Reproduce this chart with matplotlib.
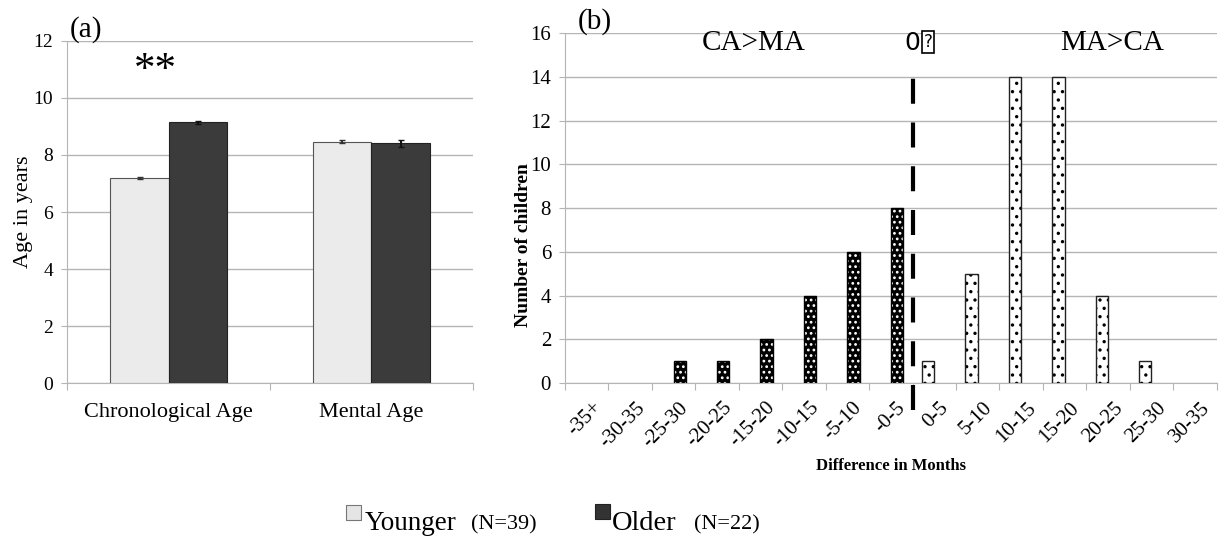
import numpy as np
import matplotlib.pyplot as plt
from matplotlib.patches import Rectangle

# panel (a) data
age_groups = ["Chronological Age", "Mental Age"]
younger_age = [7.18, 8.47]
younger_err = [0.03, 0.04]
older_age = [9.14, 8.41]
older_err = [0.05, 0.12]

# panel (b) data
diff_bins = ["-35+", "-30-35", "-25-30", "-20-25", "-15-20", "-10-15", "-5-10", "-0-5",
             "0-5", "5-10", "10-15", "15-20", "20-25", "25-30", "30-35"]
younger_counts = [0, 0, 0, 0, 0, 0, 0, 0, 1, 5, 14, 14, 4, 1, 0]
older_counts = [0, 0, 1, 1, 2, 4, 6, 8, 0, 0, 0, 0, 0, 0, 0]

SERIF = ["Liberation Serif", "DejaVu Serif"]
plt.rcParams["font.family"] = SERIF
plt.rcParams["hatch.linewidth"] = 1.2
GRID = "#b5b5b5"

fig = plt.figure(figsize=(12.19, 5.45), dpi=100)

# ---------- panel (a)
ax1 = fig.add_axes([0.055, 0.297, 0.333, 0.628])
x = np.arange(len(age_groups)) + 0.5
w = 0.286
ax1.bar(x - w / 2, younger_age, w, yerr=younger_err, color="#ebebeb",
        edgecolor="#555555", linewidth=0.8, ecolor="#333333", capsize=2, zorder=3)
ax1.bar(x + w / 2, older_age, w, yerr=older_err, color="#3b3b3b",
        edgecolor="#222222", linewidth=0.8, ecolor="#111111", capsize=2, zorder=3)
ax1.set_xlim(0, 2)
ax1.set_ylim(0, 12)
ax1.set_yticks(range(0, 13, 2))
ax1.set_xticks([0, 1, 2])
ax1.set_xticklabels([])
ax1.set_xticks(x, minor=True)
ax1.set_xticklabels(age_groups, minor=True, fontsize=16)
ax1.tick_params(axis="x", which="minor", length=0, pad=14)
ax1.tick_params(axis="x", which="major", length=5, color=GRID, direction="out")
ax1.tick_params(axis="y", length=4, color=GRID, labelsize=14, pad=6)
ax1.grid(axis="y", color=GRID, linewidth=1, zorder=0)
for s in ["top", "right"]:
    ax1.spines[s].set_visible(False)
for s in ["left", "bottom"]:
    ax1.spines[s].set_color(GRID)
ax1.set_ylabel("Age in years", fontsize=16)
ax1.yaxis.set_label_coords(-0.083, 0.5)
ax1.text(0.5 - w / 2 - 0.03, 10.95, "**", fontsize=31, ha="left", va="center")
fig.text(0.057, 0.97, "(a)", fontsize=21, va="top")

# ---------- panel (b)
ax2 = fig.add_axes([0.4635, 0.297, 0.5345, 0.642])
xb = np.arange(len(diff_bins)) + 0.5
wb = 0.28
yc = np.array(younger_counts)
oc = np.array(older_counts)
ym = yc > 0
om = oc > 0
ax2.bar(xb[ym] - wb, yc[ym], wb, align="edge", color="white",
        edgecolor="black", hatch="..", linewidth=0, zorder=3)
ax2.bar(xb[ym] - wb, yc[ym], wb, align="edge", fill=False,
        edgecolor="#222222", linewidth=1.0, zorder=4)
ax2.bar(xb[om], oc[om], wb, align="edge", color="black",
        edgecolor="white", hatch="...", linewidth=0, zorder=3)
ax2.bar(xb[om], oc[om], wb, align="edge", fill=False,
        edgecolor="black", linewidth=1.0, zorder=4)
ax2.set_xlim(0, len(diff_bins))
ax2.set_ylim(0, 16)
ax2.set_yticks(range(0, 17, 2))
ax2.set_xticks(np.arange(len(diff_bins) + 1))
ax2.set_xticklabels([])
ax2.set_xticks(xb + 0.12, minor=True)
ax2.set_xticklabels(diff_bins, minor=True, rotation=45, ha="right",
                    rotation_mode="anchor", fontsize=15)
ax2.tick_params(axis="x", which="minor", length=0, pad=11)
ax2.tick_params(axis="x", which="major", length=5, color=GRID, direction="out")
ax2.tick_params(axis="y", length=4, color=GRID, labelsize=15, pad=6)
ax2.grid(axis="y", color=GRID, linewidth=1, zorder=0)
for s in ["top", "right"]:
    ax2.spines[s].set_visible(False)
for s in ["left", "bottom"]:
    ax2.spines[s].set_color(GRID)
ax2.set_ylabel("Number of children", fontsize=14, fontweight="bold")
ax2.yaxis.set_label_coords(-0.05, 0.394)
ax2.set_xlabel("Difference in Months", fontsize=12, fontweight="bold")
ax2.xaxis.set_label_coords(0.5, -0.215)
ax2.axvline(8, ymin=-0.078, ymax=0.894, color="black", linewidth=3,
            dashes=(6, 4.5), clip_on=False, zorder=5)
ax2.text(4.35, 15.55, "CA>MA", fontsize=21, ha="center", va="center")
ax2.text(12.6, 15.55, "MA>CA", fontsize=21, ha="center", va="center")
ax2.text(8.0, 15.55, "0", fontsize=18, ha="center", va="center",
         family=["DejaVu Sans"])
ax2.text(8.36, 15.6, "?", fontsize=12, ha="center", va="center",
         family=["DejaVu Sans"],
         bbox=dict(boxstyle="square,pad=0.1", fc="white", ec="black", lw=1.2))
fig.text(0.474, 0.985, "(b)", fontsize=21, va="top")

# ---------- legend row
fig.add_artist(Rectangle((0.284, 0.045), 0.012, 0.028, transform=fig.transFigure,
                         facecolor="#e5e5e5", edgecolor="#777777", linewidth=0.8))
fig.text(0.299, 0.028, "Younger", fontsize=19.5, va="baseline")
fig.text(0.386, 0.028, "(N=39)", fontsize=16, va="baseline")
fig.add_artist(Rectangle((0.488, 0.047), 0.012, 0.028, transform=fig.transFigure,
                         facecolor="#333333", edgecolor="#222222", linewidth=0.8))
fig.text(0.502, 0.028, "Older", fontsize=20.5, va="baseline")
fig.text(0.569, 0.028, "(N=22)", fontsize=16, va="baseline")

fig.savefig("out.png", dpi=100)
